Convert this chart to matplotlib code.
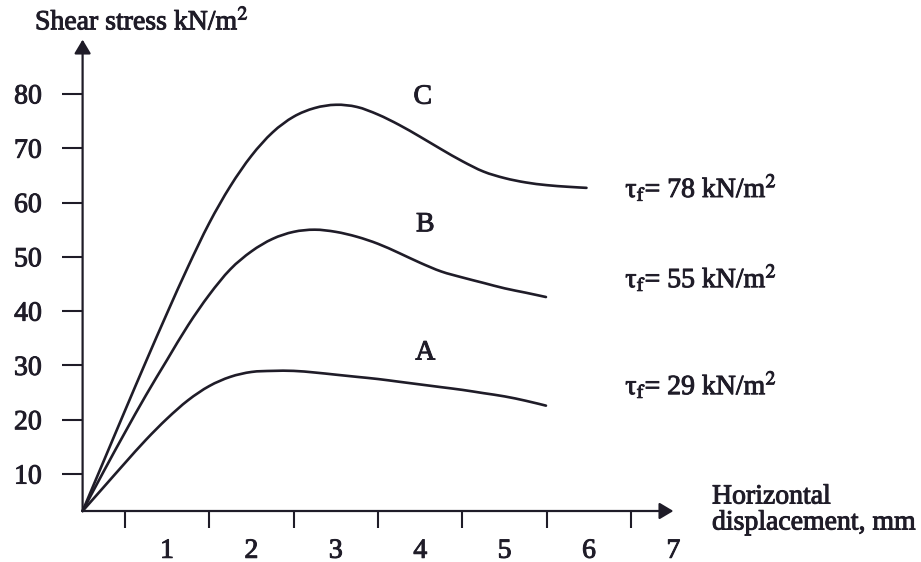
import matplotlib
matplotlib.use("Agg")
import matplotlib.pyplot as plt
import matplotlib.patheffects as pe
from matplotlib.path import Path
from matplotlib.patches import PathPatch

plt.rcParams['font.family'] = ['Liberation Serif', 'DejaVu Serif']
plt.rcParams['mathtext.fontset'] = 'stix'

ink = '#1f1c28'
fs = 20
heavy = [pe.withStroke(linewidth=0.7, foreground=ink)]

# displacement (mm) / shear stress (kN/m2) for the three samples
disp_a = [0, 0.25, 0.5, 0.75, 1.0, 1.25, 1.5, 1.75, 2.0, 2.25, 2.5, 2.75, 3.0, 3.25, 3.5,
          3.75, 4.0, 4.25, 4.5, 4.75, 5.0, 5.25, 5.49]
stress_a = [3.2, 7.6, 12.0, 16.3, 20.2, 23.6, 26.2, 27.9, 28.8, 29.0, 29.0, 28.7, 28.3, 27.9, 27.5,
            27.0, 26.5, 26.0, 25.5, 24.9, 24.3, 23.5, 22.6]

disp_b = [0, 0.25, 0.5, 0.75, 1.0, 1.25, 1.5, 1.75, 2.0, 2.25, 2.5, 2.75, 3.0, 3.25, 3.5,
          3.75, 4.0, 4.25, 4.5, 4.75, 5.0, 5.25, 5.49]
stress_b = [3.2, 10.5, 17.6, 24.5, 31.0, 37.4, 43.0, 47.7, 51.0, 53.3, 54.6, 55.0, 54.6, 53.7, 52.4,
            50.7, 48.9, 47.3, 46.2, 45.2, 44.2, 43.4, 42.6]

disp_c = [0, 0.25, 0.5, 0.75, 1.0, 1.25, 1.5, 1.75, 2.0, 2.25, 2.5, 2.75, 3.0, 3.25, 3.5,
          3.75, 4.0, 4.25, 4.5, 4.75, 5.0, 5.25, 5.5, 5.75, 5.97]
stress_c = [3.2, 12.4, 21.6, 30.7, 39.6, 48.2, 56.2, 63.0, 68.6, 72.9, 75.8, 77.4, 78.0, 77.6, 76.2,
            74.3, 72.1, 69.8, 67.6, 65.7, 64.5, 63.7, 63.2, 62.9, 62.7]

curve_names = ['A', 'B', 'C']
name_pos = [(4.06, 32.3), (4.06, 55.9), (4.03, 79.4)]
tau_f = [29, 55, 78]
tau_y = [26.4, 46.1, 62.7]

y_ticks = [10, 20, 30, 40, 50, 60, 70, 80]
x_labels = [1, 2, 3, 4, 5, 6, 7]
x_marks = [0.5, 1, 1.5, 2, 2.5, 3, 3.5, 4, 4.5, 5, 5.5, 6, 6.5]

y0 = 3.2  # level where the displacement axis is drawn


def smooth_path(xs, ys):
    # Catmull-Rom through the points, written as cubic Bezier segments
    pts = list(zip(xs, ys))
    verts = [pts[0]]
    codes = [Path.MOVETO]
    n = len(pts)
    for i in range(n - 1):
        p0 = pts[max(i - 1, 0)]
        p1 = pts[i]
        p2 = pts[i + 1]
        p3 = pts[min(i + 2, n - 1)]
        c1 = (p1[0] + (p2[0] - p0[0]) / 6, p1[1] + (p2[1] - p0[1]) / 6)
        c2 = (p2[0] - (p3[0] - p1[0]) / 6, p2[1] - (p3[1] - p1[1]) / 6)
        verts += [c1, c2, p2]
        codes += [Path.CURVE4] * 3
    return Path(verts, codes)


fig = plt.figure(figsize=(9.21, 5.62), dpi=100)
ax = fig.add_axes([82.6 / 921, 51 / 562, 590.8 / 921, 471.4 / 562])
ax.set_xlim(0, 7)
ax.set_ylim(y0, 90)
for s in ax.spines.values():
    s.set_visible(False)

for xs, ys in [(disp_a, stress_a), (disp_b, stress_b), (disp_c, stress_c)]:
    ax.add_patch(PathPatch(smooth_path(xs, ys), facecolor='none', edgecolor=ink, lw=1.9,
                           capstyle='round', joinstyle='round', clip_on=False))

# axes with arrow heads
arrow = dict(arrowstyle='-|>,head_length=0.42,head_width=0.25', color=ink, lw=1.6,
             mutation_scale=20, shrinkA=0, shrinkB=0)
ax.annotate('', xy=(7, y0), xytext=(0, y0), arrowprops=arrow, annotation_clip=False)
ax.annotate('', xy=(0, 90), xytext=(0, y0), arrowprops=arrow, annotation_clip=False)

ax.set_yticks(y_ticks)
ax.set_yticklabels([str(v) for v in y_ticks])
ax.tick_params(axis='y', direction='out', length=15, width=1.5, color=ink, pad=14.5,
               labelsize=fs, labelcolor=ink)

ax.set_xticks(x_labels)
ax.set_xticklabels([str(v) for v in x_labels])
ax.set_xticks(x_marks, minor=True)
ax.tick_params(axis='x', which='major', length=0, pad=20, labelsize=fs, labelcolor=ink)
ax.tick_params(axis='x', which='minor', direction='out', length=12.2, width=1.5, color=ink)
for lab in ax.get_xticklabels() + ax.get_yticklabels():
    lab.set_path_effects(heavy)

for name, (px, py) in zip(curve_names, name_pos):
    ax.text(px, py, name, fontsize=fs, color=ink, ha='center', va='center', path_effects=heavy)

for t, ty in zip(tau_f, tau_y):
    ax.text(6.43, ty, r'τ$_{\rm f}$= %d kN/m$^{2}$' % t, fontsize=fs, color=ink,
            ha='left', va='center', clip_on=False, path_effects=heavy)

fig.text(35 / 921, 1 - 22 / 562, 'Shear stress kN/m$^{2}$', fontsize=fs, color=ink,
         ha='left', va='center', path_effects=heavy)
fig.text(712 / 921, 1 - 510 / 562, 'Horizontal\ndisplacement, mm', fontsize=fs, color=ink,
         ha='left', va='center', linespacing=1.05, path_effects=heavy)

fig.savefig('out.png', dpi=100, facecolor='white')
